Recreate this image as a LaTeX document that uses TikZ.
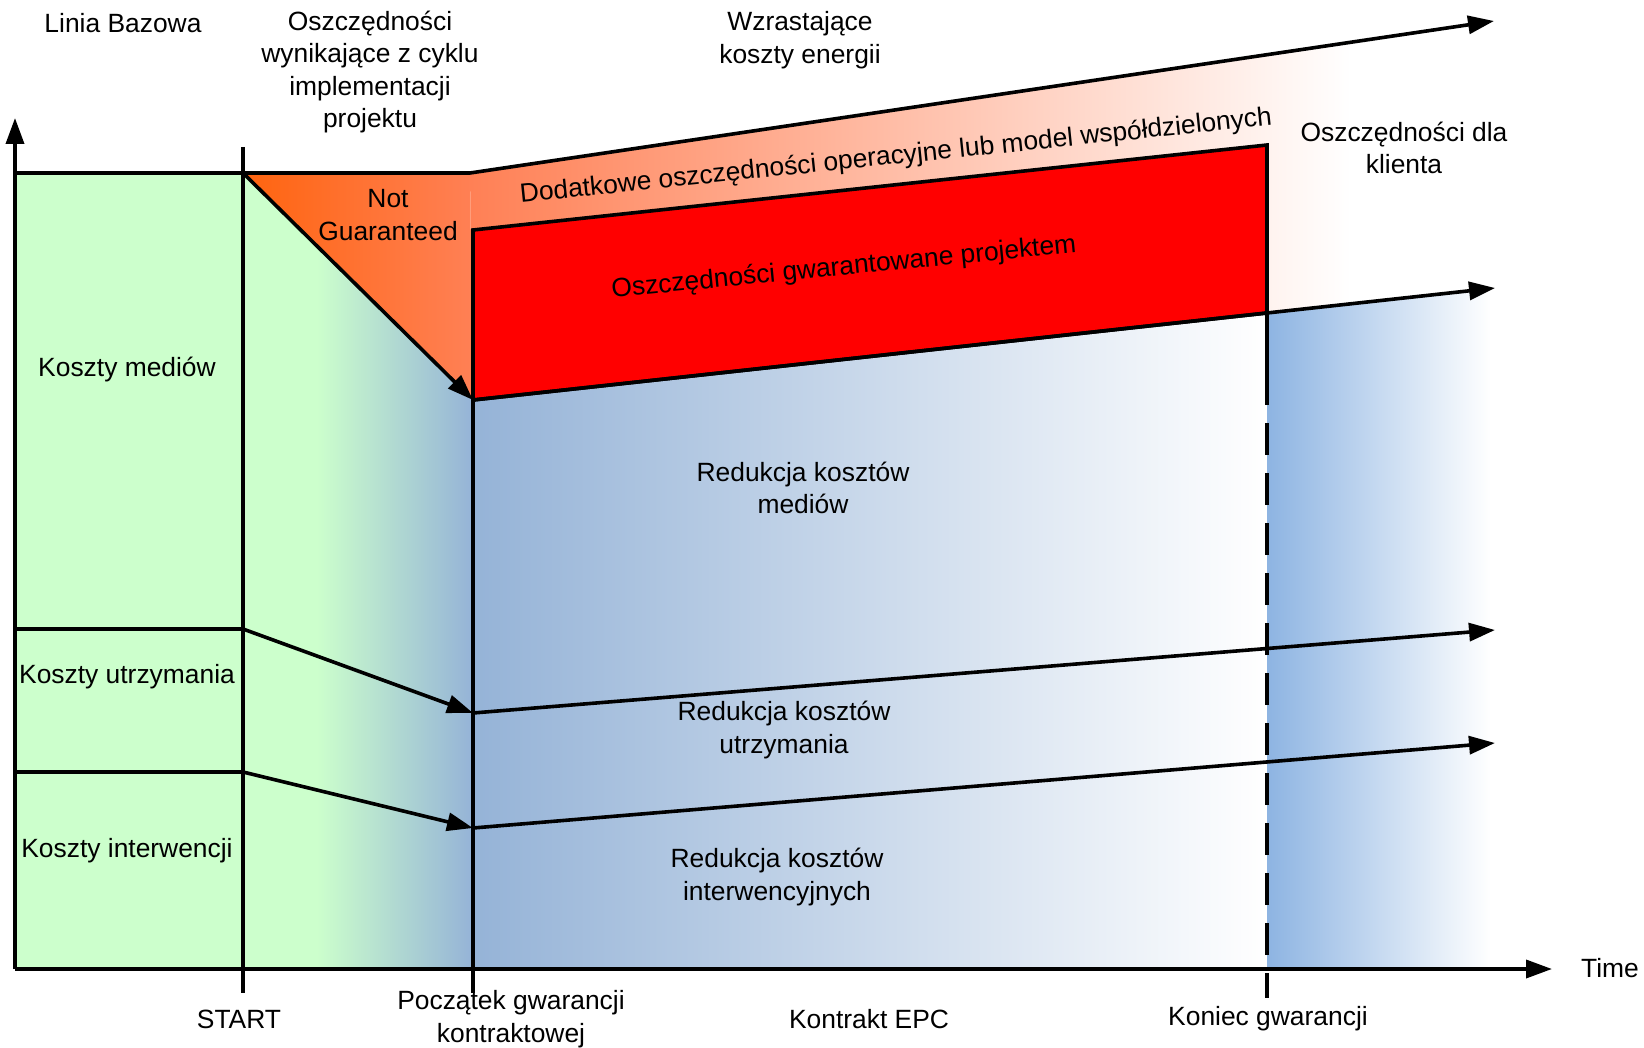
\documentclass[tikz,border=0pt]{standalone}
\usepackage{fontspec}
\setmainfont{Liberation Sans}
\usetikzlibrary{arrows.meta}
\definecolor{mieta}{RGB}{204,255,204}
\definecolor{stal}{RGB}{149,179,215}
\definecolor{niebo}{RGB}{141,180,226}
\definecolor{pomar}{RGB}{255,100,15}
\definecolor{koral}{RGB}{255,128,85}
\pgfdeclarehorizontalshading{zielnieb}{100bp}{color(0bp)=(mieta); color(25bp)=(mieta); color(41bp)=(mieta); color(75bp)=(stal); color(100bp)=(stal)}
\pgfdeclarehorizontalshading{koralbiel}{100bp}{color(0bp)=(koral); color(25bp)=(koral); color(68bp)=(white); color(100bp)=(white)}
\pgfdeclarehorizontalshading{niebobiel}{100bp}{color(0bp)=(niebo); color(25bp)=(niebo); color(66bp)=(white); color(100bp)=(white)}
\tikzset{
    linia/.style={line width=1.8pt, line join=miter},
    strzalka/.style={linia, -{Triangle[length=13pt,width=9pt]}},
    przerywana/.style={linia, dash pattern=on 16pt off 9pt},
    etykieta/.style={align=center, inner sep=0pt, font=\fontsize{13.2}{16.25}\selectfont},
}
\begin{document}
\begin{tikzpicture}[x=0.5pt, y=-0.5pt]
    \useasboundingbox (0,0) rectangle (1644,1048);

    % punkty osi i linii
    \coordinate (o) at (15,969);
    \coordinate (ytip) at (15,118);
    \coordinate (xtip) at (1552,969);
    \coordinate (bazaL) at (15,173);
    \coordinate (start) at (243,173);
    \coordinate (startG) at (243,147);
    \coordinate (startD) at (243,993);
    \coordinate (zalom) at (470,173);
    \coordinate (energia) at (1494,21);
    \coordinate (gwarL) at (473,230);
    \coordinate (gwarP) at (1267,145);
    \coordinate (redP) at (1267,313);
    \coordinate (redL) at (473,400);
    \coordinate (klient) at (1495,288);
    \coordinate (poczD) at (473,993);
    \coordinate (konS) at (1267,373);
    \coordinate (konD) at (1267,998);
    \coordinate (utrzL) at (15,629);
    \coordinate (utrzS) at (243,629);
    \coordinate (utrzP) at (473,713);
    \coordinate (utrzK) at (1495,630);
    \coordinate (intL) at (15,772);
    \coordinate (intS) at (243,772);
    \coordinate (intP) at (473,828);
    \coordinate (intK) at (1495,743);
    \coordinate (nieboB) at (1495,745);
    \coordinate (dolP) at (1540,969);

    % tla
    \shade[left color=pomar, right color=koral] (start) -- (zalom) -- (redL) -- cycle;
    \shade[shading=koralbiel] (zalom) -- (energia) -- (klient) -- (redL) -- cycle;
    \shade[shading=zielnieb] (start) -- (redL) -- (redL |- o) -- (start |- o) -- cycle;
    \shade[left color=stal, right color=white] (redL) -- (redP) -- (redP |- o) -- (redL |- o) -- cycle;
    \shade[shading=niebobiel] (redP) -- (klient) -- (nieboB) -- (dolP) -- (redP |- o) -- cycle;
    \fill[mieta] (bazaL) rectangle (start |- o);
    \filldraw[fill=red, linia] (gwarL) -- (gwarP) -- (redP) -- (redL) -- cycle;

    % osie i linie
    \draw[strzalka] (o) -- (ytip);
    \draw[strzalka] (o) -- (xtip);
    \draw[strzalka] (bazaL) -- (zalom) -- (energia);
    \draw[linia] (startG) -- (startD);
    \draw[strzalka] (start) -- (redL);
    \draw[linia] (gwarL) -- (poczD);
    \draw[strzalka] (redL) -- (klient);
    \draw[linia] (gwarP) -- (konS);
    \draw[przerywana] (konS) -- (konD);

    \draw[linia] (utrzL) -- (utrzS);
    \draw[strzalka] (utrzS) -- (utrzP);
    \draw[strzalka] (utrzP) -- (utrzK);
    \draw[linia] (intL) -- (intS);
    \draw[strzalka] (intS) -- (intP);
    \draw[strzalka] (intP) -- (intK);

    % opisy
    \node[etykieta] (baza) at (123,23) {Linia Bazowa};
    \node[etykieta] (cykl) at (370,72) {Oszczędności\\wynikające z cyklu\\implementacji\\projektu};
    \node[etykieta] (wzrost) at (800,40) {Wzrastające\\koszty energii};
    \node[etykieta] (notg) at (388,215) {Not\\Guaranteed};
    \node[etykieta, rotate=5.9] (dodat) at (896,157) {Dodatkowe oszczędności operacyjne lub model współdzielonych};
    \node[etykieta, rotate=5.6] (gwar) at (844,268) {Oszczędności gwarantowane projektem};
    \node[etykieta] (dlakl) at (1404,148) {Oszczędności dla\\klienta};
    \node[etykieta] (med) at (127,370) {Koszty mediów};
    \node[etykieta] (utrz) at (127,677) {Koszty utrzymania};
    \node[etykieta] (inter) at (127,851) {Koszty interwencji};
    \node[etykieta] (redmed) at (803,488) {Redukcja kosztów\\mediów};
    \node[etykieta] (redutrz) at (784,730) {Redukcja kosztów\\utrzymania};
    \node[etykieta] (redint) at (777,877) {Redukcja kosztów\\interwencyjnych};
    \node[etykieta] (lstart) at (239,1019) {START};
    \node[etykieta] (lpocz) at (511,1019) {Początek gwarancji\\kontraktowej};
    \node[etykieta] (lepc) at (869,1019) {Kontrakt EPC};
    \node[etykieta] (lkon) at (1268,1019) {Koniec gwarancji};
    \node[etykieta] (czas) at (1610,968) {Time};
\end{tikzpicture}
\end{document}
